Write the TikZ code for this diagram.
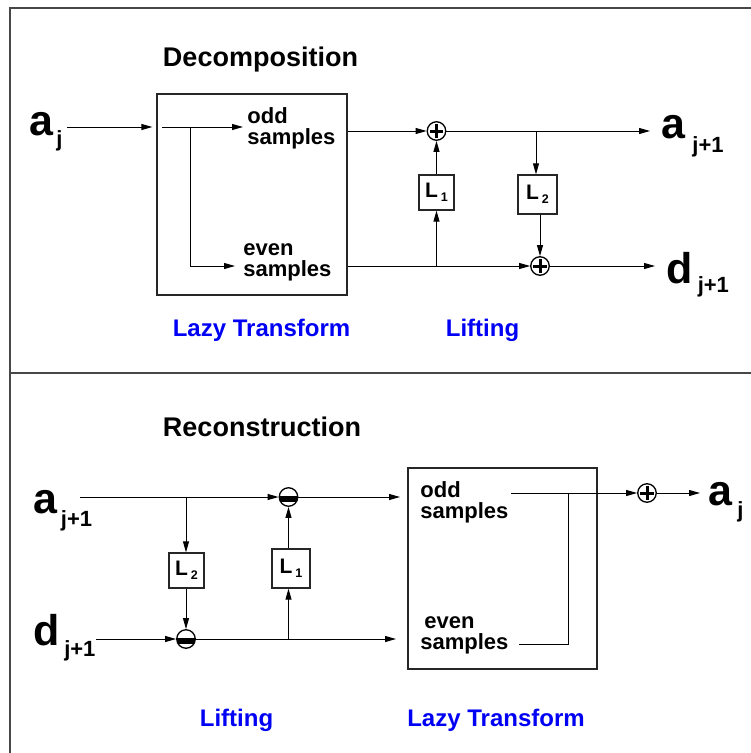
\documentclass[tikz,border=0pt]{standalone}
\usepackage{fontspec}
\setmainfont{Liberation Sans}
\usetikzlibrary{arrows.meta}
\definecolor{lblue}{RGB}{0,0,245}
\newcommand\mysub[3]{\hspace{#1pt}\raisebox{-#2pt}{\fontsize{22}{22}\selectfont #3}}
\newcommand\lsub[1]{\hspace{3pt}\raisebox{-4pt}{\fontsize{12.5}{12.5}\selectfont #1}}
\begin{document}
\begin{tikzpicture}[x=1pt,y=-1pt,
 arr/.style={-{Triangle[length=11pt,width=6pt]}, line width=1pt},
 ln/.style={line width=1pt},
 frame/.style={line width=2pt, draw=black!72},
 lazybox/.style={draw=black!85, line width=1.3pt, rectangle, inner sep=0pt},
 lbox/.style={draw=black!85, line width=1.3pt, rectangle, inner sep=0pt, font=\bfseries\fontsize{21}{21}\selectfont},
 plusc/.style={circle, draw=black, line width=1.3pt, minimum size=18.5pt, inner sep=0pt, path picture={
   \draw[line width=3pt] ([yshift=-2.6pt]path picture bounding box.north) -- ([yshift=2.6pt]path picture bounding box.south)
   ([xshift=2.6pt]path picture bounding box.west) -- ([xshift=-2.6pt]path picture bounding box.east);}},
 minusc/.style={circle, draw=black, line width=1.3pt, minimum size=18.5pt, inner sep=0pt, path picture={
   \fill ([yshift=0.8pt]path picture bounding box.west) rectangle ([yshift=-4.6pt]path picture bounding box.east);}},
 title/.style={anchor=base, inner sep=0pt, font=\bfseries\fontsize{27}{27}\selectfont},
 blab/.style={anchor=base, inner sep=0pt, text=lblue, font=\bfseries\fontsize{24}{24}\selectfont},
 samp/.style={anchor=base west, inner sep=0pt, font=\bfseries\fontsize{22}{20}\selectfont},
 sig/.style={anchor=base west, inner sep=0pt, font=\bfseries\fontsize{43}{43}\selectfont},
]
\useasboundingbox (0,0) rectangle (751,753);
% frame
\draw[frame] (10,753) -- (10,8) -- (751,8);
\draw[frame] (10,373) -- (751,373);

% ================= Decomposition =================
\node[title] (tdec) at (260.5,66.7) {Decomposition};
\node[sig] (aj) at (29.3,135) {a\mysub{3}{11}{j}};
\node[lazybox, minimum width=190pt, minimum height=201pt] (lz1) at (252,194.5) {};
\node[samp] (odd1) at (247.2,123) {\begin{tabular}[t]{@{}l@{}}odd\\samples\end{tabular}};
\node[samp] (even1) at (243.2,255) {\begin{tabular}[t]{@{}l@{}}even\\samples\end{tabular}};
\node[plusc] (p1) at (436.5,131) {};
\node[plusc] (p2) at (540,266) {};
\node[lbox, minimum width=35pt, minimum height=35pt] (L1) at (436.5,192.5) {L\lsub{1}};
\node[lbox, minimum width=39pt, minimum height=39pt] (L2) at (537.5,194.5) {L\lsub{2}};
\node[sig] (aj1) at (661.3,138) {a\mysub{7}{14}{j+1}};
\node[sig] (dj1) at (666.3,283) {d\mysub{5}{9}{j+1}};
\node[blab] (lazy1) at (261.5,336.7) {Lazy Transform};
\node[blab] (lift1) at (482.5,336.7) {Lifting};

\coordinate (ajo) at (67,127);
\coordinate (in1) at (162,127);
\coordinate (br1) at (190,127);
\coordinate (oddtip) at (243,127);
\coordinate (eventip) at (235,266);
\coordinate (aout) at (650,131);
\coordinate (dout) at (655,266);
\coordinate (b2) at (536,131);
\coordinate (b1) at (436.5,266);

\draw[arr] (ajo) -- ([xshift=-4pt]lz1.west |- ajo);
\draw[arr] (in1) -- (oddtip);
\draw[arr] (br1) |- (eventip);
\draw[arr] (lz1.east |- p1) -- (p1);
\draw[arr] (p1) -- (aout);
\draw[arr] (b2) -- (b2 |- L2.north);
\draw[arr] (L2.south -| p2) -- (p2);
\draw[arr] (lz1.east |- p2) -- (p2);
\draw[arr] (p2) -- (dout);
\draw[arr] (b1) -- (L1.south);
\draw[arr] (L1.north) -- (p1);

% ================= Reconstruction =================
\node[title] (trec) at (262,436) {Reconstruction};
\node[sig] (ajb) at (33.3,513) {a\mysub{3.5}{13}{j+1}};
\node[sig] (djb) at (33.3,645) {d\mysub{4.5}{11}{j+1}};
\node[minusc] (m1) at (288.5,497) {};
\node[minusc] (m2) at (186,639) {};
\node[lbox, minimum width=35pt, minimum height=35pt] (L2b) at (186.5,570.5) {L\lsub{2}};
\node[lbox, minimum width=38pt, minimum height=39pt] (L1b) at (291,568.5) {L\lsub{1}};
\node[lazybox, minimum width=189pt, minimum height=201pt] (lz2) at (502.5,568.5) {};
\node[samp] (odd2) at (420.2,497) {\begin{tabular}[t]{@{}l@{}}odd\\samples\end{tabular}};
\node[samp] (even2) at (420.2,628) {\begin{tabular}[t]{@{}l@{}}\hspace*{4pt}even\\samples\end{tabular}};
\node[plusc] (p3) at (647,493) {};
\node[sig] (ajr) at (708.3,505) {a\mysub{5}{12}{j}};
\node[blab] (lift2) at (236.5,726.7) {Lifting};
\node[blab] (lazy2) at (496,726.7) {Lazy Transform};

\coordinate (ain) at (80,497);
\coordinate (din) at (96,639);
\coordinate (b3) at (186,497);
\coordinate (b4) at (288.5,639);
\coordinate (t2end) at (400,497);
\coordinate (t3end) at (396,639);
\coordinate (oo) at (511,493);
\coordinate (eo) at (519,644);
\coordinate (j3) at (568,493);
\coordinate (ajend) at (700,493);

\draw[arr] (ain) -- (m1);
\draw[arr] (b3) -- (b3 |- L2b.north);
\draw[arr] (L2b.south -| m2) -- (m2);
\draw[arr] (din) -- (m2);
\draw[arr] (m2) -- (t3end);
\draw[arr] (b4) -- (b4 |- L1b.south);
\draw[arr] (L1b.north -| m1) -- (m1);
\draw[arr] (m1) -- (t2end);
\draw[arr] (oo) -- (p3);
\draw[ln] (eo) -| (j3);
\draw[arr] (p3) -- (ajend);
\end{tikzpicture}
\end{document}
